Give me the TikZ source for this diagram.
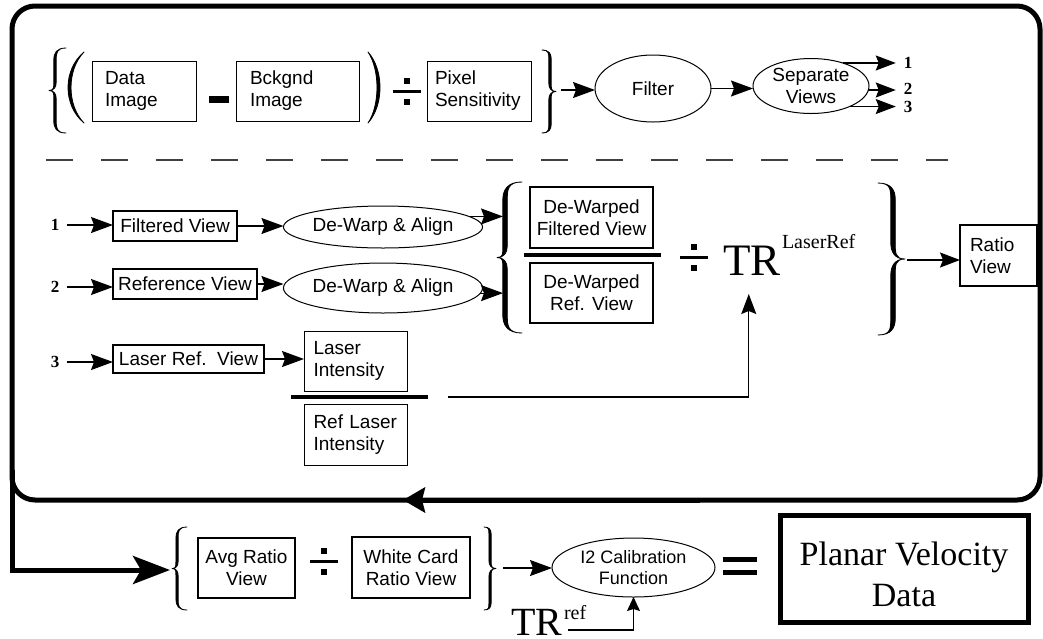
\documentclass[tikz,border=0pt]{standalone}
\usepackage{fontspec}
\setmainfont{Liberation Serif}
\newfontfamily\arialf{Liberation Sans}
\usetikzlibrary{shapes.geometric,arrows.meta}
% curly brace: #1 stem x, #2 centre y, #3 tip offset, #4 end offset, #5 height, #6 stem thickness, #7 side (1 = "{", -1 = "}")
\newcommand{\curly}[7]{%
  \pgfmathsetmacro\bxa{#1+#7*#4}%
  \pgfmathsetmacro\bxt{#1-#7*#3}%
  \pgfmathsetmacro\bxl{#1-#7*#6/2}%
  \pgfmathsetmacro\bxr{#1+#7*#6/2}%
  \pgfmathsetmacro\bxe{#1+#7*#4*0.15}%
  \pgfmathsetmacro\bxk{#1-#7*#3*0.15}%
  \pgfmathsetmacro\byt{#2-#5/2}%
  \pgfmathsetmacro\byb{#2+#5/2}%
  \pgfmathsetmacro\bre{1.1*#4}%
  \pgfmathsetmacro\brt{1.4*#3}%
  \pgfmathsetmacro\bce{0.4*\bre}%
  \pgfmathsetmacro\bct{0.4*\brt}%
  \filldraw[glyphline]
   (\bxa,\byt) .. controls (\bxe,\byt) and (\bxl,\byt+\bce) .. (\bxl,\byt+\bre)
   -- (\bxl,#2-\brt) .. controls (\bxl,#2-\bct) and (\bxk,#2) .. (\bxt,#2)
   .. controls (\bxk,#2) and (\bxl,#2+\bct) .. (\bxl,#2+\brt)
   -- (\bxl,\byb-\bre) .. controls (\bxl,\byb-\bce) and (\bxe,\byb) .. (\bxa,\byb)
   .. controls (\bxe,\byb) and (\bxr,\byb-\bce) .. (\bxr,\byb-\bre)
   -- (\bxr,#2+\brt) .. controls (\bxr,#2+\bct) and (\bxk,#2) .. (\bxt,#2)
   .. controls (\bxk,#2) and (\bxr,#2-\bct) .. (\bxr,#2-\brt)
   -- (\bxr,\byt+\bre) .. controls (\bxr,\byt+\bce) and (\bxe,\byt) .. (\bxa,\byt) -- cycle;}
% parenthesis: #1 end x, #2 centre y, #3 bulge depth, #4 height, #5 thickness, #6 side (1 = "(", -1 = ")")
\newcommand{\paren}[6]{%
  \pgfmathsetmacro\pxo{#1-#6*#3/0.75}%
  \pgfmathsetmacro\pxi{#1-#6*(#3-#5)/0.75}%
  \filldraw[glyphline] (#1,#2-#4/2) .. controls (\pxo,#2-#4/4) and (\pxo,#2+#4/4) .. (#1,#2+#4/2)
    .. controls (\pxi,#2+#4/4) and (\pxi,#2-#4/4) .. (#1,#2-#4/2) -- cycle;}
\newcommand{\divsign}[2]{%
  \fill (#1-14,#2-1.5) rectangle (#1+14,#2+1.5);
  \fill (#1-3,#2-13.5) rectangle (#1+3,#2-7.5);
  \fill (#1-3,#2+7.5) rectangle (#1+3,#2+13.5);}
\tikzset{
  every node/.style={inner sep=0pt, outer sep=0pt, font=\arialf\fontsize{19}{22}\selectfont},
  thinbox/.style={draw, line width=1pt, align=left},
  thickbox/.style={draw, line width=2.6pt, align=center},
  oval/.style={draw, ellipse, line width=1pt, align=center},
  numlbl/.style={font=\rmfamily\bfseries\fontsize{17}{17}\selectfont, inner xsep=8pt},
  conn/.style={line width=1.1pt, -{Stealth[length=22pt,width=16pt,inset=3pt]}},
  connsm/.style={line width=1.1pt, -{Stealth[length=20pt,width=15pt,inset=3pt]}},
  conntiny/.style={line width=1.1pt, -{Stealth[length=14pt,width=13pt,inset=2pt]}},
  loopline/.style={line width=5pt},
  dashline/.style={line width=1.3pt, black!75, dash pattern=on 27pt off 28pt},
  fracbar/.style={line width=3.5pt},
  glyphline/.style={line width=0.8pt, line join=round},
  bigtr/.style={font=\rmfamily\fontsize{45}{45}\selectfont, anchor=base west},
  trsup/.style={font=\rmfamily\fontsize{20}{20}\selectfont, anchor=base west},
}
\begin{document}
\begin{tikzpicture}[x=1pt,y=-1pt]
\useasboundingbox (0,0) rectangle (1043,638);

% ---------- outer loop ----------
\draw[loopline, rounded corners=23pt] (12,300) -- (12,6) -- (1040,6) -- (1040,500) -- (12,500) -- cycle;
\coordinate (looptip) at (403,500);
\coordinate (loopstart) at (700,500);
\draw[loopline, -{Stealth[length=22pt,width=25pt,inset=3pt]}] (loopstart) -- (looptip);
\coordinate (feedtop) at (12,470);
\coordinate (feedcorner) at (12,570);
\coordinate (avgin) at (170,570);
\draw[loopline, -{Stealth[length=37pt,width=28pt,inset=8pt]}] (feedtop) -- (feedcorner) -- (avgin);

% ---------- top row ----------
\curly{55}{90.5}{6}{11}{85}{2.4}{1}
\paren{84}{87.5}{16}{71}{3}{1}
\node[thinbox, minimum width=104pt, minimum height=60pt, text width=78pt] (di) at (144,91) {Data\\Image};
\fill (209,96) rectangle (229,103);
\node[thinbox, minimum width=123pt, minimum height=60pt, text width=95pt] (bi) at (297.5,91) {Bckgnd\\Image};
\paren{368}{87.5}{12}{71}{3}{-1}
\divsign{407}{91}
\node[thinbox, minimum width=104pt, minimum height=60pt, text width=88pt] (ps) at (479,91) {Pixel\\Sensitivity};
\curly{550}{91.5}{6}{8}{83}{2.4}{-1}
\coordinate (b2t) at (561,90);
\node[oval, minimum width=116pt, minimum height=67pt] (flt) at (653,88.5) {Filter};
\node[oval, minimum width=116pt, minimum height=55pt] (sep) at (811,86) {Separate\\Views};
\draw[conn] (b2t) -- (b2t -| flt.west);
\draw[conn] (flt.east) -- (flt.east -| sep.west);
\node[numlbl] (o1) at (908,63) {1};
\node[numlbl] (o2) at (908,88.5) {2};
\node[numlbl] (o3) at (908,106.5) {3};
\draw[connsm] (sep.36) -- (sep.36 -| o1.west);
\draw[connsm] (sep.-4) -- (sep.-4 -| o2.west);
\draw[connsm] (sep.-28) -- (sep.-28 -| o3.west);

\coordinate (dashA) at (46,160);
\coordinate (dashB) at (948,160);
\draw[dashline] (dashA) -- (dashB);

% ---------- middle ----------
\node[numlbl] (l1) at (55,225) {1};
\node[numlbl] (l2) at (55,287) {2};
\node[numlbl] (l3) at (55,362) {3};
\node[thickbox, minimum width=124pt, minimum height=30pt] (fv) at (175,226) {Filtered View};
\node[thickbox, minimum width=144pt, minimum height=30pt] (rv) at (185,284) {Reference View};
\node[thickbox, minimum width=151pt, minimum height=28pt] (lrv) at (188.5,359) {Laser Ref.\ \ View};
\draw[conn] (l1.east) -- (l1.east -| fv.west);
\draw[conn] (l2.east) -- (l2.east -| rv.west);
\draw[conn] (l3.east) -- (l3.east -| lrv.west);

\node[oval, minimum width=158pt, minimum height=42pt] (e1) at (383,227) {De-Warp \& Align};
\node[oval, minimum width=158pt, minimum height=50pt] (e2) at (383,288) {De-Warp \& Align};
\draw[conn] (fv.east) -- (fv.east -| e1.west);
\draw[conn] (rv.east) -- (rv.east -| e2.west);

\node[thinbox, minimum width=103pt, minimum height=60pt, text width=84pt] (li) at (355.5,361) {Laser\\Intensity};
\node[thinbox, minimum width=103pt, minimum height=61pt, text width=84pt] (rli) at (355.5,434.5) {Ref Laser\\Intensity};
\draw[conn] (lrv.east) -- (lrv.east -| li.west);
\coordinate (fbA) at (291,397);
\coordinate (fbB) at (428,397);
\draw[fracbar] (fbA) -- (fbB);

\curly{505}{257.5}{8}{17}{151}{4.5}{1}
\coordinate (t1) at (503,218);
\coordinate (t2) at (503,291);
\draw[conn] (e1.7) -- (e1.7 -| t1);
\draw[conn] (e2.-3) -- (e2.-3 -| t2);

\node[thickbox, minimum width=123pt, minimum height=61pt] (dwf) at (591.5,217.5) {De-Warped\\Filtered View};
\node[thickbox, minimum width=123pt, minimum height=60pt] (dwr) at (591.5,293) {De-Warped\\Ref. View};
\coordinate (fcA) at (524,255);
\coordinate (fcB) at (661,255);
\draw[fracbar] (fcA) -- (fcB);
\divsign{693.5}{257}
\node[bigtr] (tr) at (723,275) {TR};
\node[trsup] (trs) at (782,248) {LaserRef};
\coordinate (lfrom) at (448,397);
\draw[connsm] (lfrom) -| ([xshift=-3pt,yshift=-19pt]tr.south);

\curly{893}{259}{12}{15}{152}{4.5}{-1}
\coordinate (b4t) at (907,260);
\node[thickbox, align=left, minimum width=77pt, minimum height=61pt, text width=57pt] (ratio) at (998.5,255.5) {Ratio\\View};
\draw[connsm] (b4t) -- (b4t -| ratio.west);

% ---------- bottom ----------
\curly{177}{568.5}{5}{10}{83}{2.2}{1}
\node[thickbox, minimum width=97pt, minimum height=60pt] (avg) at (246.5,568) {Avg Ratio\\View};
\divsign{324}{561}
\node[thickbox, minimum width=118pt, minimum height=61pt] (wc) at (411,567.5) {White Card\\Ratio View};
\curly{490}{568.5}{6}{6}{83}{2.2}{-1}
\coordinate (b6t) at (503,568);
\node[oval, minimum width=163pt, minimum height=59pt, font=\arialf\fontsize{18}{21}\selectfont] (cal) at (633.5,567.5) {I2 Calibration\\Function};
\draw[conn] (b6t) -- (b6t -| cal.west);

\fill (723,557.3) rectangle (757,561.7);
\fill (723,570.3) rectangle (757,574.7);

\node[draw, line width=5pt, minimum width=248pt, minimum height=107pt] (pv) at (904,568.5) {};
\node[font=\rmfamily\fontsize{34}{41}\selectfont, align=center, anchor=north] (pvt) at (904,542) {Planar Velocity\\Data};

\node[font=\rmfamily\fontsize{40}{40}\selectfont, anchor=base west] (trb) at (511,635) {TR};
\node[trsup] (trbs) at (564,619) {ref};
\coordinate (trbl) at (568,630);
\draw[conntiny] (trbl) -| (cal.south);
\end{tikzpicture}
\end{document}
